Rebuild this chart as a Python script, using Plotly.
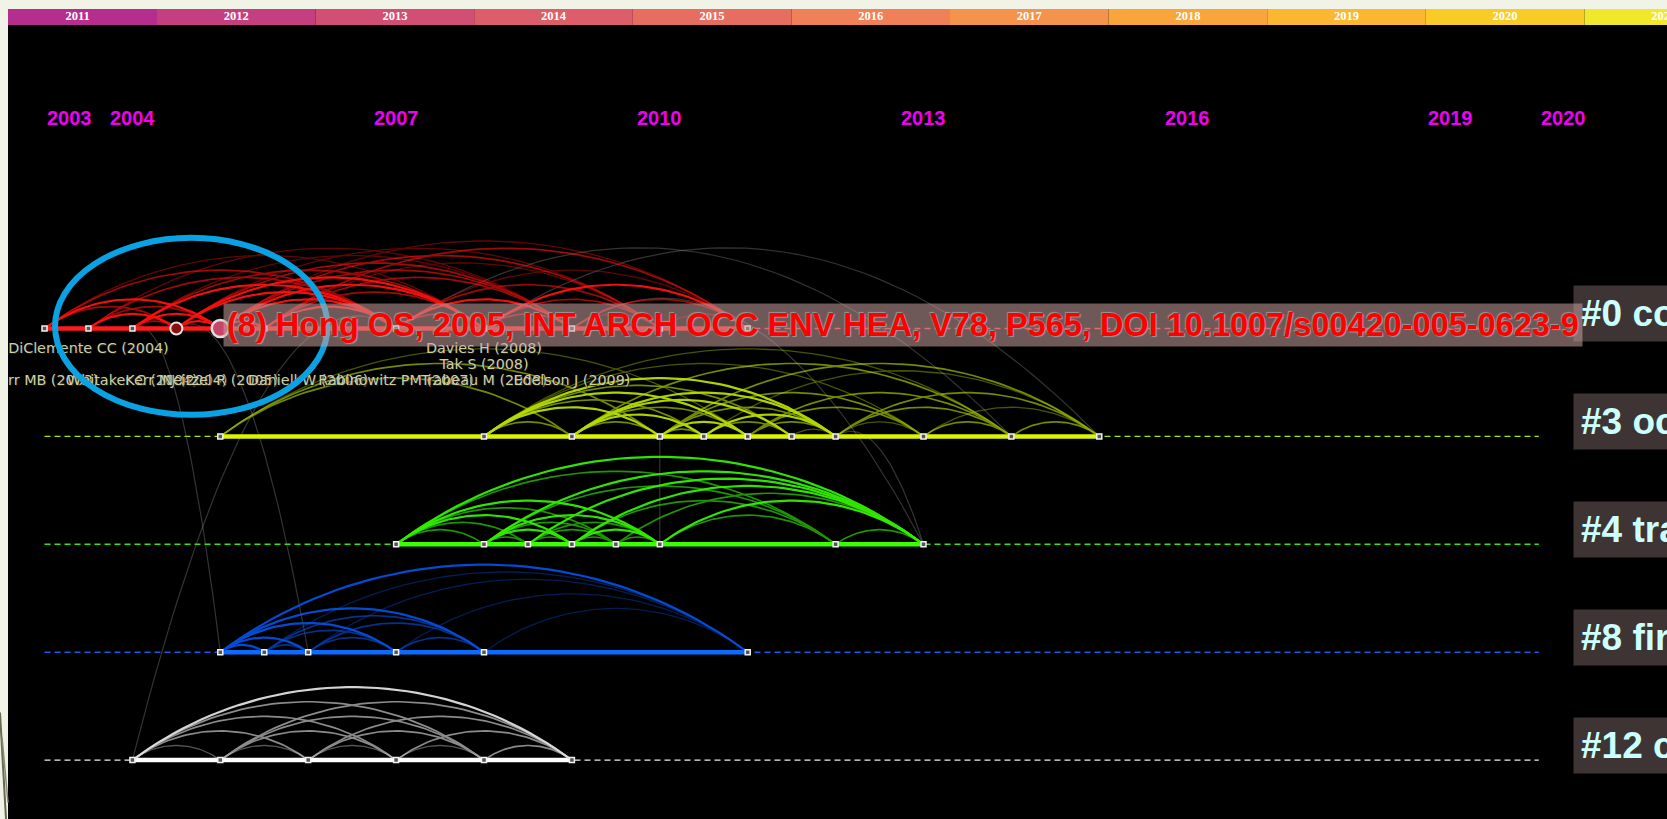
import numpy as np
import plotly.graph_objects as go

W, H = 1667, 819

# ---------------- data ----------------
bar_years = [2011, 2012, 2013, 2014, 2015, 2016, 2017, 2018, 2019, 2020, 2021]
bar_colors = ["#B52E8E", "#C43F7F", "#D14F74", "#DC5E6A", "#E66E61", "#EF8058",
              "#F5924C", "#F9A53C", "#FBB72F", "#F8CB27", "#F1E72B"]
axis_years = [2003, 2004, 2007, 2010, 2013, 2016, 2019, 2020]
timeline_start, timeline_end = 2003, 2020

cluster_labels = ["#0 compliance", "#3 occupational noise", "#4 training",
                  "#8 firefighter", "#12 construction"]
lane_colors = ["#FF1A1A", "#DDF500", "#3CFF00", "#0A6CFF", "#FFFFFF"]
dash_colors = ["#FF3030", "#A6E800", "#44E000", "#1060F0", "#EEEEEE"]
arc_colors = ["#FF1010", "#B8E000", "#33F000", "#0550E0", "#E0E0E0"]
lane_start = [2003, 2005, 2007, 2005, 2004]
lane_end = [2011, 2015, 2013, 2011, 2009]

nodes = [
    [2003, 2003.5, 2004, 2004.5, 2005, 2005.5, 2007, 2008, 2009, 2010, 2011],
    [2005, 2008, 2009, 2010, 2010.5, 2011, 2011.5, 2012, 2013, 2014, 2015],
    [2007, 2008, 2008.5, 2009, 2009.5, 2010, 2012, 2013],
    [2005, 2005.5, 2006, 2007, 2008, 2011],
    [2004, 2005, 2006, 2007, 2008, 2009],
]

edges = [
    [(2003, 2004.5, 2), (2003, 2005, 3), (2003, 2007, 2), (2003, 2008, 1),
     (2003.5, 2004.5, 3), (2003.5, 2005, 2), (2003.5, 2007, 2), (2003.5, 2009, 1),
     (2004, 2004.5, 2), (2004, 2005, 3), (2004, 2007, 3), (2004, 2008, 2), (2004, 2009, 1),
     (2004.5, 2005, 3), (2004.5, 2007, 3), (2004.5, 2008, 3), (2004.5, 2009, 2), (2004.5, 2010, 1),
     (2005, 2005.5, 3), (2005, 2007, 3), (2005, 2008, 3), (2005, 2009, 2), (2005, 2010, 2), (2005, 2011, 1),
     (2005.5, 2007, 3), (2005.5, 2008, 2), (2005.5, 2009, 2), (2005.5, 2010, 1), (2005.5, 2011, 2),
     (2007, 2008, 2), (2007, 2009, 3), (2007, 2010, 2), (2007, 2011, 1),
     (2008, 2009, 2), (2008, 2010, 2), (2008, 2011, 3),
     (2009, 2010, 1), (2009, 2011, 2), (2010, 2011, 1)],
    [(2005, 2009, 2), (2005, 2010, 2), (2005, 2011, 1), (2008, 2009, 2), (2008, 2010, 3),
     (2008, 2010.5, 2), (2008, 2011, 3), (2008, 2011.5, 2), (2008, 2012, 3), (2008, 2013, 1),
     (2008, 2014, 1), (2009, 2010, 2), (2009, 2010.5, 3), (2009, 2011, 2), (2009, 2011.5, 3),
     (2009, 2012, 3), (2009, 2014, 2), (2010, 2010.5, 2), (2010, 2011, 3), (2010, 2012, 2),
     (2010, 2013, 2), (2010, 2015, 2), (2010.5, 2011.5, 2), (2010.5, 2012, 3), (2010.5, 2015, 1),
     (2011, 2012, 2), (2011, 2013, 2), (2011, 2014, 2), (2011.5, 2012, 1), (2012, 2013, 1),
     (2012, 2014, 2), (2012, 2015, 2), (2013, 2014, 2), (2013, 2015, 1), (2014, 2015, 2)],
    [(2007, 2008, 2), (2007, 2008.5, 2), (2007, 2009, 3), (2007, 2009.5, 2), (2007, 2010, 3),
     (2007, 2012, 2), (2007, 2013, 3), (2008, 2008.5, 2), (2008, 2009, 3), (2008, 2009.5, 2),
     (2008, 2010, 3), (2008, 2012, 2), (2008, 2013, 3), (2008.5, 2009, 2), (2008.5, 2009.5, 2),
     (2008.5, 2010, 2), (2008.5, 2013, 3), (2009, 2009.5, 2), (2009, 2010, 3), (2009, 2012, 2),
     (2009, 2013, 3), (2009.5, 2010, 2), (2009.5, 2013, 2), (2010, 2012, 2), (2010, 2013, 3),
     (2012, 2013, 2)],
    [(2005, 2005.5, 3), (2005, 2006, 3), (2005, 2007, 3), (2005, 2008, 3), (2005, 2011, 3),
     (2005.5, 2006, 2), (2005.5, 2007, 2), (2005.5, 2008, 2), (2005.5, 2011, 1),
     (2006, 2007, 2), (2006, 2008, 2), (2006, 2011, 1),
     (2007, 2008, 2), (2007, 2011, 1), (2008, 2011, 1)],
    [(2004, 2005, 1), (2004, 2006, 2), (2004, 2007, 2), (2004, 2008, 2), (2004, 2009, 3),
     (2005, 2006, 1), (2005, 2007, 2), (2005, 2008, 2), (2005, 2009, 2),
     (2006, 2007, 1), (2006, 2008, 2), (2006, 2009, 2),
     (2007, 2008, 1), (2007, 2009, 2), (2008, 2009, 2)],
]

# inter-cluster links: (year_from, lane_from, year_to, lane_to)
cross_links = [(2004, 0, 2005, 3), (2004.5, 0, 2006, 3), (2004, 4, 2007, 0),
               (2008, 0, 2015, 1), (2007, 0, 2014, 1), (2009, 0, 2013, 2),
               (2012, 1, 2013, 2), (2010, 1, 2010, 2)]

highlight_label = "(8) Hong OS, 2005, INT ARCH OCC ENV HEA, V78, P565, DOI 10.1007/s00420-005-0623-9"
highlight_year = 2005

node_labels = ["DiClemente CC (2004)", "Davies H (2008)", "Tak S (2008)",
               "Kerr MB (2003)", "Whitaker C (2004)", "Kerr MJ (2004)", "Neitzel R (2005)",
               "Daniell W (2006)", "Rabinowitz PM (2007)", "Trabeau M (2008)", "Edelson J (2009)"]
node_label_years = [2003.5, 2008, 2008, 2003, 2004, 2004.5, 2005, 2006, 2007, 2008, 2009]
node_label_rows = [0, 0, 1, 2, 2, 2, 2, 2, 2, 2, 2]

red_big_nodes = [2004.5, 2005]

# ---------------- geometry ----------------
PX_X = 87.9          # pixels per year
PX_Y = 107.9         # pixels per lane
X0PX = 44.5          # pixel of timeline start
LANE0PX = 328.5
PLOT_TOP = 25
LEFT = 8
RATIO = 0.166

xr = [timeline_start - (X0PX - LEFT) / PX_X, timeline_start + (W - X0PX) / PX_X]
yr = [(H - LANE0PX) / PX_Y, (PLOT_TOP - LANE0PX) / PX_Y]

def arc_pts(a, b, lane, n=48):
    c = (b - a) * PX_X
    s = c * RATIO
    R = (c * c / 4 + s * s) / (2 * s)
    phi = np.arcsin(c / 2 / R)
    th = np.linspace(-phi, phi, n)
    x = (a + b) / 2 + R * np.sin(th) / PX_X
    y = lane + (-s + R - R * np.cos(th)) / PX_Y
    return x, y

def link_pts(x1, l1, x2, l2, n=48):
    p1 = np.array([x1 * PX_X, l1 * PX_Y])
    p2 = np.array([x2 * PX_X, l2 * PX_Y])
    dx = abs(p2[0] - p1[0])
    c = np.array([(p1[0] + p2[0]) / 2, min(p1[1], p2[1]) - 2 * RATIO * dx])
    t = np.linspace(0, 1, n)[:, None]
    p = (1 - t) ** 2 * p1 + 2 * (1 - t) * t * c + t ** 2 * p2
    return p[:, 0] / PX_X, p[:, 1] / PX_Y

fig = go.Figure()

# colour bar of years
fig.add_trace(go.Bar(x=bar_years, y=[1] * len(bar_years), width=1, marker_color=bar_colors,
                     marker_line_width=0, xaxis="x2", yaxis="y2", hoverinfo="skip"))
fig.add_trace(go.Scatter(x=bar_years, y=[0.5] * len(bar_years), mode="text",
                         text=[str(y) for y in bar_years], xaxis="x2", yaxis="y2",
                         textfont=dict(family="Liberation Serif", size=12.5, color="white", weight="bold"),
                         hoverinfo="skip"))

# dashed timelines
for i in range(len(cluster_labels)):
    fig.add_trace(go.Scatter(x=[timeline_start, timeline_end], y=[i, i], mode="lines",
                             line=dict(color=dash_colors[i], width=1.4, dash="6px,4px"),
                             hoverinfo="skip"))

# cross-cluster links
gx, gy = [], []
for (a, la, b, lb) in cross_links:
    x, y = link_pts(a, la, b, lb)
    gx += list(x) + [None]
    gy += list(y) + [None]
fig.add_trace(go.Scatter(x=gx, y=gy, mode="lines", line=dict(color="rgba(150,150,150,0.35)", width=1.2),
                         hoverinfo="skip"))

# solid lanes
for i in range(len(cluster_labels)):
    fig.add_trace(go.Scatter(x=[lane_start[i], lane_end[i]], y=[i, i], mode="lines",
                             line=dict(color=lane_colors[i], width=4.5), hoverinfo="skip"))

# arcs
opac = {1: 0.38, 2: 0.62, 3: 0.95}
widths = {1: 1.3, 2: 1.7, 3: 2.2}
for i, elist in enumerate(edges):
    for w in (1, 2, 3):
        ax, ay = [], []
        for (a, b, ww) in elist:
            if ww != w:
                continue
            x, y = arc_pts(a, b, i)
            ax += list(x) + [None]
            ay += list(y) + [None]
        if ax:
            fig.add_trace(go.Scatter(x=ax, y=ay, mode="lines", opacity=opac[w],
                                     line=dict(color=arc_colors[i], width=widths[w]),
                                     hoverinfo="skip"))

# nodes
for i, nl in enumerate(nodes):
    xs = [n for n in nl if not (i == 0 and n in red_big_nodes)]
    fig.add_trace(go.Scatter(x=xs, y=[i] * len(xs), mode="markers",
                             marker=dict(symbol="square", size=5, color="#555",
                                         line=dict(color="#F2F2F2", width=1.5)),
                             hoverinfo="skip"))
fig.add_trace(go.Scatter(x=[red_big_nodes[0]], y=[0], mode="markers",
                         marker=dict(symbol="circle", size=12, color="#8A1010",
                                     line=dict(color="#E6E6E6", width=2)), hoverinfo="skip"))
fig.add_trace(go.Scatter(x=[red_big_nodes[1]], y=[0], mode="markers",
                         marker=dict(symbol="circle", size=17, color="#C8456A",
                                     line=dict(color="#E0E0E0", width=2.5)), hoverinfo="skip"))

# node labels
row_off = [21, 37, 53]
fig.add_trace(go.Scatter(x=node_label_years,
                         y=[row_off[r] / PX_Y for r in node_label_rows],
                         mode="text", text=node_labels,
                         textfont=dict(family="DejaVu Sans", size=14.3, color="#CFCFA6",
                                       shadow="1px 1px 1px #222"),
                         hoverinfo="skip"))

annotations = []
# year labels at top
for k, yv in enumerate(axis_years):
    edge = k == 0 or k == len(axis_years) - 1
    annotations.append(dict(x=yv, y=0, yshift=LANE0PX - 118, xref="x", yref="y",
                            text=str(yv), showarrow=False,
                            xanchor="left" if edge else "center", yanchor="middle",
                            font=dict(family="Arial", size=20, color="#F000F0", weight="bold")))

# cluster labels
for i, lab in enumerate(cluster_labels):
    annotations.append(dict(x=1573 / W, y=i, xref="paper", yref="y", yshift=15,
                            text=lab, showarrow=False, xanchor="left", yanchor="middle",
                            bgcolor="#3E3434", borderpad=7,
                            font=dict(family="Arial", size=37,
                                      color="#CCFFFF", weight="bold")))

# highlighted reference label (drawn over the first cluster box)
annotations.append(dict(x=highlight_year, y=0, xref="x", yref="y", xshift=3, yshift=4,
                        text=highlight_label, showarrow=False, xanchor="left", yanchor="middle",
                        bgcolor="rgba(200,160,160,0.55)", borderpad=3,
                        font=dict(family="Arial", size=32.5, color="#FF0000", weight="bold",
                                  shadow="1px 1px 1px #9A9A9A, -1px -1px 1px #9A9A9A")))

shapes = [
    dict(type="circle", xref="x", yref="y",
         x0=2004.67 - 1.55, x1=2004.67 + 1.55, y0=-0.84, y1=0.80,
         line=dict(color="#0AA2E2", width=6), layer="above"),
    dict(type="line", xref="paper", yref="paper", x0=0, y0=0.13, x1=6 / W, y1=0.0,
         line=dict(color="#6A6A50", width=2)),
    dict(type="line", xref="paper", yref="paper", x0=2 / W, y0=0.10, x1=8 / W, y1=0.02,
         line=dict(color="#8A8A70", width=1.5)),
]

fig.update_layout(
    width=W, height=H, margin=dict(l=0, r=0, t=0, b=0),
    paper_bgcolor="#F0F3E6", plot_bgcolor="black", showlegend=False,
    xaxis=dict(domain=[LEFT / W, 1], range=xr, visible=False),
    yaxis=dict(domain=[0, 1 - PLOT_TOP / H], range=yr, visible=False),
    xaxis2=dict(domain=[LEFT / W, 1], anchor="y2", visible=False,
                range=[2011 - (77.7 - LEFT) / 158.6, 2011 + (W - 77.7) / 158.6]),
    yaxis2=dict(domain=[1 - PLOT_TOP / H, 1 - 9 / H], anchor="x2", range=[0, 1], visible=False),
    annotations=annotations, shapes=shapes,
)

fig.write_html("out.html")
